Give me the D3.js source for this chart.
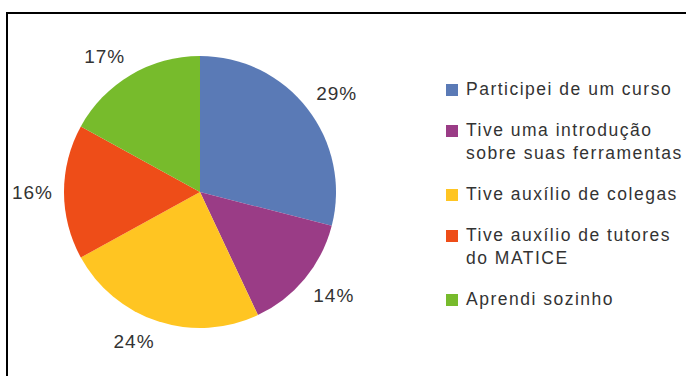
<!DOCTYPE html>
<html>
<head>
<meta charset="utf-8">
<script src="https://cdn.jsdelivr.net/npm/d3@7"></script>
<style>
  html, body { margin: 0; padding: 0; background: #fff; }
  svg { display: block; }
</style>
</head>
<body>
<svg id="chart" width="686" height="376"></svg>
<script>
// Survey answers: how respondents learned the tool
const categories = [
  "Participei de um curso",
  "Tive uma introdução sobre suas ferramentas",
  "Tive auxílio de colegas",
  "Tive auxílio de tutores do MATICE",
  "Aprendi sozinho"
];
// Legend text split into lines
const legendLines = [
  ["Participei de um curso"],
  ["Tive uma introdução", "sobre suas ferramentas"],
  ["Tive auxílio de colegas"],
  ["Tive auxílio de tutores", "do MATICE"],
  ["Aprendi sozinho"]
];
const values = [29, 14, 24, 16, 17];
const colors = ["#5a7ab6", "#9a3c86", "#ffc522", "#ee4d18", "#77bb2c"];

const svg = d3.select("#chart");
const font = "'Liberation Sans', Arial, sans-serif";

// Outer frame
svg.append("rect")
  .attr("x", 7).attr("y", 13)
  .attr("width", 720).attr("height", 420)
  .attr("fill", "none")
  .attr("stroke", "#000")
  .attr("stroke-width", 2);

const cx = 200, cy = 192, radius = 136, labelRadius = 147;

const pie = d3.pie().sort(null).value(d => d);
const arcs = pie(values);
const arc = d3.arc().innerRadius(0).outerRadius(radius);

const g = svg.append("g").attr("transform", `translate(${cx},${cy})`);

g.selectAll("path.slice")
  .data(arcs)
  .join("path")
  .attr("class", "slice")
  .attr("d", arc)
  .attr("fill", (d, i) => colors[i]);

// Percentage labels: the text box corner facing the pie sits on a circle
const labelH = 18;
g.selectAll("text.pct")
  .data(arcs)
  .join("text")
  .attr("class", "pct")
  .attr("text-anchor", "middle")
  .attr("dy", "0.36em")
  .attr("font-family", font)
  .attr("font-size", 19)
  .attr("letter-spacing", 1)
  .attr("fill", "#333")
  .text(d => d.data + "%")
  .attr("transform", function (d) {
    const a = (d.startAngle + d.endAngle) / 2;
    const s = Math.sin(a), c = Math.cos(a);
    const w = this.getComputedTextLength();
    const sx = Math.abs(s) < 0.05 ? 0 : Math.sign(s);
    const sy = Math.abs(c) < 0.05 ? 0 : Math.sign(c);
    const x = labelRadius * s + sx * w / 2;
    const y = -labelRadius * c - sy * labelH / 2;
    return `translate(${x},${y})`;
  });

// Legend
const legendX = 446, firstBaseline = 95, lineHeight = 23, itemGap = 18;
const legend = svg.append("g");
let baseline = firstBaseline;
legendLines.forEach((lines, i) => {
  const item = legend.append("g");
  item.append("rect")
    .attr("x", legendX)
    .attr("y", baseline - 11)
    .attr("width", 12)
    .attr("height", 12)
    .attr("fill", colors[i]);
  const text = item.append("text")
    .attr("font-family", font)
    .attr("font-size", 17.5)
    .attr("letter-spacing", 1.5)
    .attr("fill", "#333");
  lines.forEach((line, j) => {
    text.append("tspan")
      .attr("x", legendX + 20)
      .attr("y", baseline + j * lineHeight)
      .text(line);
  });
  baseline += lines.length * lineHeight + itemGap;
});
</script>
</body>
</html>
